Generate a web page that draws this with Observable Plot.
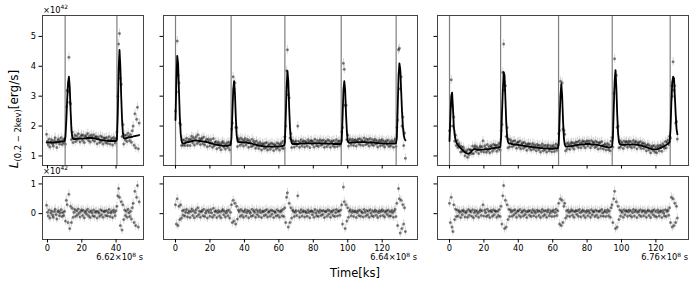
<!DOCTYPE html>
<html><head><meta charset="utf-8">
<script src="https://cdn.jsdelivr.net/npm/d3@7"></script>
<script src="https://cdn.jsdelivr.net/npm/@observablehq/plot@0.6"></script>
<style>
body{margin:0;background:#fff;}
#fig{position:relative;width:693px;height:285px;overflow:hidden;font-family:"DejaVu Sans";background:#fff;}
#fig svg{position:absolute;}
</style></head><body><div id="fig"></div>
<script>
// ---- observation bins (ks) ----
const binKs = 0.5;
const p1Start = -0.5, p2Start = 0, p3Start = 0;

// ---- segment 1 (6.62e8 s) ----
const p1Model = [
1.45,1.45,1.45,1.45,1.45,1.45,1.45,1.45,1.45,1.45,
1.46,1.46,1.46,1.46,1.47,1.47,1.47,1.48,1.48,1.49,
1.49,1.5,1.65,2.2,2.9,3.45,3.65,3.3,2.5,1.85,
1.62,1.57,1.56,1.56,1.57,1.57,1.58,1.58,1.58,1.58,
1.58,1.58,1.58,1.58,1.59,1.59,1.59,1.6,1.6,1.6,
1.6,1.6,1.6,1.6,1.6,1.59,1.59,1.58,1.57,1.56,
1.56,1.55,1.54,1.54,1.53,1.53,1.52,1.52,1.51,1.51,
1.51,1.5,1.5,1.5,1.5,1.5,1.5,1.5,1.5,1.5,
1.5,1.5,1.55,2.4,3.9,4.55,4.0,3.0,2.2,1.75,
1.6,1.58,1.59,1.6,1.6,1.61,1.62,1.62,1.63,1.64,
1.64,1.65,1.66,1.66,1.67,1.68,1.68,1.69,1.7];
const p1Resid = [
0.28,0.05,-0.08,0.12,-0.15,0.02,0.09,-0.05,-0.12,0.07,
0.15,-0.03,-0.18,0.06,0.1,-0.07,0.03,0.13,-0.1,0.04,
-0.06,0.08,-0.25,0.45,0.3,-0.3,0.65,-0.5,0.25,-0.3,
0.18,-0.12,0.05,0.14,-0.09,0.1,-0.04,0.16,0.02,-0.11,
0.08,0.13,-0.06,0.11,-0.14,0.04,0.09,-0.02,0.15,-0.08,
0.06,-0.13,0.1,0.03,-0.07,0.12,-0.1,0.05,0.08,-0.15,
0.07,0.02,-0.09,0.13,-0.04,0.1,-0.12,0.06,0.09,-0.06,
0.11,-0.08,0.04,0.14,-0.1,0.03,0.08,-0.13,0.12,0.05,
-0.07,0.1,0.25,0.6,0.85,0.55,-0.4,0.4,-0.55,0.3,
-0.2,0.12,-0.06,0.09,-0.12,0.15,0.03,-0.1,0.08,-0.18,
0.2,0.35,-0.3,0.75,-0.4,0.55,0.95,-0.45,0.4];
const p1Eruptions = [10.3, 40.5];

// ---- segment 2 (6.64e8 s) ----
const p2Model = [
2.2,3.5,4.35,4.1,3.2,2.3,1.75,1.5,1.43,1.42,
1.42,1.43,1.44,1.45,1.46,1.46,1.47,1.48,1.49,1.5,
1.5,1.51,1.51,1.51,1.51,1.51,1.51,1.5,1.5,1.5,
1.49,1.49,1.48,1.48,1.47,1.47,1.46,1.46,1.45,1.44,
1.43,1.42,1.41,1.41,1.4,1.39,1.38,1.38,1.37,1.37,
1.36,1.36,1.35,1.35,1.35,1.34,1.34,1.34,1.34,1.34,
1.34,1.35,1.35,1.36,1.37,1.6,2.4,3.2,3.5,3.1,
2.3,1.7,1.5,1.46,1.46,1.46,1.46,1.46,1.46,1.45,
1.45,1.45,1.45,1.44,1.44,1.43,1.43,1.42,1.41,1.41,
1.4,1.39,1.38,1.38,1.37,1.36,1.35,1.35,1.34,1.34,
1.33,1.33,1.32,1.32,1.32,1.31,1.31,1.31,1.31,1.31,
1.31,1.31,1.31,1.31,1.31,1.31,1.31,1.31,1.31,1.32,
1.32,1.32,1.32,1.33,1.33,1.34,1.35,1.45,2.3,3.3,
3.85,3.5,2.6,1.9,1.55,1.43,1.4,1.4,1.4,1.4,
1.4,1.4,1.4,1.4,1.41,1.41,1.41,1.41,1.41,1.41,
1.41,1.41,1.42,1.42,1.42,1.42,1.42,1.42,1.42,1.42,
1.42,1.42,1.42,1.42,1.42,1.42,1.42,1.42,1.42,1.42,
1.42,1.42,1.42,1.42,1.41,1.41,1.41,1.41,1.41,1.41,
1.41,1.41,1.41,1.4,1.4,1.4,1.4,1.4,1.4,1.4,
1.4,1.4,1.4,1.5,2.3,3.2,3.5,3.2,2.4,1.8,
1.5,1.45,1.44,1.44,1.44,1.45,1.45,1.45,1.45,1.45,
1.46,1.46,1.46,1.46,1.46,1.46,1.46,1.46,1.46,1.46,
1.46,1.46,1.46,1.45,1.45,1.45,1.45,1.45,1.45,1.45,
1.45,1.44,1.44,1.44,1.43,1.43,1.43,1.42,1.42,1.42,
1.42,1.42,1.41,1.41,1.41,1.41,1.41,1.41,1.41,1.41,
1.41,1.41,1.41,1.41,1.41,1.42,1.42,1.6,2.6,3.7,
4.1,3.9,3.2,2.5,2.0,1.7,1.57,1.52];
const p2Resid = [
0.3,-0.35,0.5,-0.4,0.25,-0.2,0.3,-0.15,0.1,-0.05,
0.12,-0.08,0.05,0.14,-0.11,0.03,0.09,-0.13,0.07,0.16,
-0.06,0.1,-0.14,0.04,0.13,-0.09,0.2,-0.03,0.08,-0.12,
0.06,0.11,-0.07,0.15,-0.1,0.02,0.09,-0.15,0.12,0.05,
-0.09,0.13,0.03,-0.12,0.18,-0.05,0.07,0.1,-0.13,0.04,
0.11,-0.08,0.06,-0.14,0.09,0.14,-0.04,0.08,-0.11,0.03,
0.1,-0.07,0.12,-0.15,0.05,0.3,-0.3,0.45,-0.25,0.35,
-0.35,0.25,-0.18,0.12,0.07,-0.1,0.14,-0.05,0.09,-0.12,
0.06,0.13,-0.08,0.04,0.11,-0.14,0.08,0.02,-0.09,0.15,
-0.06,0.1,0.05,-0.12,0.13,-0.03,0.07,-0.1,0.12,0.04,
-0.13,0.09,0.06,-0.07,0.11,-0.04,0.14,-0.11,0.05,0.08,
-0.09,0.12,-0.02,0.1,-0.13,0.07,0.04,-0.08,0.13,-0.05,
0.09,-0.12,0.06,0.11,-0.07,0.15,-0.1,0.2,-0.3,0.55,
0.7,-0.45,0.35,-0.3,0.2,-0.15,0.12,0.08,-0.1,0.05,
0.11,-0.06,0.6,0.09,-0.12,0.04,0.13,-0.08,0.06,0.1,
-0.11,0.07,0.03,-0.09,0.12,0.05,-0.14,0.08,0.1,-0.04,
0.06,-0.12,0.14,0.02,-0.07,0.1,-0.1,0.05,0.12,-0.06,
0.09,-0.03,0.11,-0.13,0.06,0.08,-0.09,0.13,-0.02,0.1,
-0.12,0.05,0.09,-0.06,0.12,-0.1,0.04,0.14,-0.08,0.07,
0.1,-0.05,0.12,0.3,-0.35,0.9,0.4,-0.5,0.3,-0.25,
0.2,-0.12,0.08,0.13,-0.07,0.05,0.11,-0.1,0.06,0.09,
-0.13,0.04,0.1,-0.06,0.12,-0.09,0.07,0.03,-0.11,0.14,
0.05,-0.08,0.11,-0.04,0.09,-0.12,0.13,0.02,-0.07,0.1,
-0.1,0.06,0.12,-0.05,0.08,-0.13,0.04,0.11,-0.08,0.07,
0.13,-0.06,0.09,-0.11,0.05,0.1,-0.03,0.12,-0.09,0.06,
-0.07,0.11,0.04,-0.12,0.09,0.15,-0.1,0.35,-0.4,0.85,
0.5,-0.65,0.45,-0.5,0.3,-0.35,0.2,-0.6];
const p2Eruptions = [0, 32.3, 63.5, 96.2, 128.1];

// ---- segment 3 (6.76e8 s) ----
const p3Model = [
1.5,2.3,3.0,3.12,2.6,2.0,1.7,1.55,1.45,1.4,
1.36,1.32,1.29,1.26,1.23,1.2,1.17,1.14,1.12,1.1,
1.09,1.08,1.08,1.09,1.11,1.14,1.17,1.2,1.22,1.23,
1.23,1.22,1.21,1.2,1.2,1.2,1.2,1.21,1.21,1.21,
1.21,1.22,1.22,1.22,1.23,1.23,1.23,1.24,1.24,1.25,
1.25,1.26,1.26,1.27,1.27,1.28,1.28,1.29,1.29,1.3,
1.6,2.4,3.2,3.8,3.7,2.9,2.1,1.65,1.47,1.42,
1.41,1.41,1.4,1.4,1.39,1.39,1.38,1.38,1.38,1.37,
1.37,1.36,1.36,1.35,1.35,1.35,1.34,1.34,1.33,1.33,
1.32,1.32,1.31,1.31,1.3,1.3,1.29,1.29,1.29,1.28,
1.28,1.28,1.27,1.27,1.27,1.26,1.26,1.26,1.26,1.25,
1.25,1.25,1.25,1.25,1.25,1.24,1.24,1.24,1.24,1.24,
1.24,1.24,1.24,1.25,1.25,1.25,1.26,1.4,2.2,3.0,
3.4,3.0,2.2,1.6,1.38,1.32,1.31,1.31,1.32,1.32,
1.32,1.33,1.33,1.34,1.34,1.35,1.35,1.36,1.36,1.37,
1.37,1.37,1.38,1.38,1.38,1.39,1.39,1.39,1.4,1.4,
1.4,1.4,1.4,1.4,1.39,1.39,1.39,1.39,1.38,1.38,
1.38,1.37,1.37,1.36,1.36,1.35,1.34,1.34,1.33,1.32,
1.31,1.3,1.3,1.29,1.29,1.28,1.28,1.29,1.3,1.32,
1.6,2.6,3.5,3.87,3.3,2.4,1.75,1.47,1.4,1.38,
1.37,1.37,1.37,1.37,1.38,1.38,1.38,1.38,1.38,1.38,
1.38,1.38,1.38,1.38,1.38,1.38,1.38,1.37,1.37,1.37,
1.36,1.36,1.35,1.35,1.34,1.33,1.32,1.31,1.3,1.29,
1.28,1.27,1.26,1.25,1.24,1.23,1.23,1.22,1.22,1.22,
1.22,1.22,1.23,1.24,1.25,1.26,1.27,1.29,1.3,1.32,
1.33,1.35,1.37,1.39,1.41,1.43,1.46,1.9,2.8,3.45,
3.65,3.6,3.0,2.4,1.9,1.72];
const p3Resid = [
0.35,-0.3,0.55,-0.45,-0.6,0.3,-0.2,0.15,-0.1,0.12,
-0.08,0.1,0.05,-0.13,0.09,-0.04,0.12,0.07,-0.11,0.03,
0.08,-0.12,0.14,-0.05,0.1,0.06,-0.09,0.13,-0.14,0.04,
0.11,-0.07,0.09,0.02,-0.12,0.07,0.13,-0.06,0.1,0.3,
-0.08,0.12,0.04,-0.1,0.15,-0.05,0.08,-0.13,0.11,0.06,
-0.09,0.13,-0.04,0.1,0.07,-0.12,0.09,-0.06,0.14,-0.1,
0.25,-0.35,0.6,0.95,-0.5,0.45,-0.45,0.3,-0.2,0.15,
-0.1,0.12,0.06,-0.09,0.11,-0.04,0.13,0.02,-0.12,0.08,
0.1,-0.06,0.14,-0.11,0.05,0.09,-0.08,0.12,-0.03,0.07,
-0.13,0.06,0.11,-0.05,0.1,-0.1,0.04,0.13,-0.07,0.09,
0.03,-0.11,0.12,0.07,-0.06,0.1,-0.13,0.05,0.14,-0.08,
0.09,-0.04,0.11,-0.12,0.06,0.13,-0.07,0.02,0.1,-0.1,
0.07,0.12,-0.09,0.04,0.15,-0.06,0.1,0.35,-0.35,0.5,
-0.4,0.45,-0.3,0.25,0.35,-0.15,0.1,-0.08,0.12,0.05,
-0.1,0.08,0.13,-0.05,0.09,-0.12,0.06,0.11,-0.03,0.1,
-0.09,0.14,0.04,-0.11,0.07,0.12,-0.06,0.09,-0.13,0.05,
0.11,-0.07,0.1,0.03,-0.12,0.13,-0.04,0.08,0.06,-0.1,
0.12,-0.05,0.09,-0.13,0.07,0.1,-0.08,0.14,0.02,-0.09,
0.06,0.11,-0.1,0.05,0.13,-0.07,0.09,-0.12,0.2,0.3,
-0.3,0.5,0.75,-0.5,0.4,-0.45,0.25,-0.2,0.12,-0.08,
0.1,0.05,-0.12,0.13,-0.04,0.08,0.11,-0.09,0.06,0.12,
-0.06,0.1,-0.11,0.04,0.14,-0.08,0.07,0.12,-0.13,0.05,
0.09,-0.05,0.13,-0.1,0.06,0.11,-0.07,0.1,0.03,-0.12,
0.08,0.12,-0.06,0.09,-0.13,0.05,0.1,-0.04,0.13,-0.09,
0.07,-0.11,0.12,0.04,-0.08,0.1,0.06,-0.13,0.11,0.02,
-0.07,0.13,-0.1,0.08,0.12,-0.05,0.2,-0.3,0.55,-0.45,
0.5,-0.4,0.35,-0.3,0.25,-0.15];
const p3Eruptions = [0, 29.7, 63.4, 94.6, 128.3];

// ---- axes / labels ----
const xTicksShort = [0, 20, 40];
const xTicksLong = [0, 20, 40, 60, 80, 100, 120];
const yTicksLum = [1, 2, 3, 4, 5];
const yTicksRes = [0, 1];
const timeOffsets = ["6.62", "6.64", "6.76"];
const lumScaleExp = "42";
const timeExp = "8";
const yLabelMain = "L", yLabelSub = "(0.2 − 2kev)", yLabelUnit = "[erg/s]";
const xLabel = "Time[ks]";
const lumErr = 0.15, resErr = 0.15;

// ---- layout ----
const fig = document.getElementById("fig");
const cols = [
  {start: p1Start, model: p1Model, resid: p1Resid, eruptions: p1Eruptions, ticks: xTicksShort, domain: [-2.9, 56], left: 42, width: 101, offset: timeOffsets[0]},
  {start: p2Start, model: p2Model, resid: p2Resid, eruptions: p2Eruptions, ticks: xTicksLong, domain: [-6.97, 140.5], left: 163, width: 254, offset: timeOffsets[1]},
  {start: p3Start, model: p3Model, resid: p3Resid, eruptions: p3Eruptions, ticks: xTicksLong, domain: [-6.98, 138.95], left: 437, width: 251, offset: timeOffsets[2]}
];
const rowTop = {top: 15, height: 150, domain: [0.68, 5.7], ticks: yTicksLum};
const rowRes = {top: 176, height: 63, domain: [-0.87, 1.25], ticks: yTicksRes};
const M = {l: 30, r: 10, t: 12, b: 28};
const baseStyle = {background: "transparent", overflow: "visible", fontFamily: "DejaVu Sans", fontSize: "8.3px", color: "#000"};

function place(svg, col, row) {
  svg.style.left = (col.left - M.l) + "px";
  svg.style.top = (row.top - M.t) + "px";
  fig.appendChild(svg);
}

function cloud(data, key, err) {
  return [
    Plot.ruleX(data, {x: "t", y1: d => d[key] - err, y2: d => d[key] + err, stroke: "#000", strokeOpacity: 0.16, clip: true}),
    Plot.ruleY(data, {y: key, x1: d => d.t - binKs / 2, x2: d => d.t + binKs / 2, stroke: "#000", strokeOpacity: 0.35, clip: true}),
    Plot.dot(data, {x: "t", y: key, r: 1.5, fill: "#000", fillOpacity: 0.45, clip: true})
  ];
}

cols.forEach((col, ci) => {
  const data = col.model.map((m, i) => ({t: col.start + i * binKs, model: m, resid: col.resid[i], lum: m + col.resid[i]}));
  const common = {
    width: col.width + M.l + M.r,
    marginLeft: M.l, marginRight: M.r, marginTop: M.t, marginBottom: M.b,
    style: baseStyle
  };
  const top = Plot.plot({
    ...common,
    height: rowTop.height + M.t + M.b,
    x: {domain: col.domain},
    y: {domain: rowTop.domain},
    marks: [
      ...cloud(data, "lum", lumErr),
      Plot.ruleX(col.eruptions, {stroke: "#7f7f7f", strokeWidth: 1.2}),
      Plot.line(data, {x: "t", y: "model", stroke: "#000", strokeWidth: 1.8, clip: true}),
      Plot.frame({stroke: "#444"}),
      Plot.axisX({ticks: col.ticks, tickSize: 3.5, tickFormat: () => "", label: null}),
      Plot.axisY({ticks: rowTop.ticks, tickSize: 3.5, tickPadding: 3, tickFormat: ci === 0 ? d => String(d) : () => "", label: null})
    ]
  });
  place(top, col, rowTop);

  const res = Plot.plot({
    ...common,
    height: rowRes.height + M.t + M.b,
    x: {domain: col.domain},
    y: {domain: rowRes.domain},
    marks: [
      ...cloud(data, "resid", resErr),
      Plot.frame({stroke: "#444"}),
      Plot.axisX({ticks: col.ticks, tickSize: 3.5, tickPadding: 2, tickFormat: d => String(d), label: null}),
      Plot.axisY({ticks: rowRes.ticks, tickSize: 3.5, tickPadding: 3, tickFormat: ci === 0 ? d => String(d) : () => "", label: null})
    ]
  });
  place(res, col, rowRes);
});

// ---- text overlay ----
const ov = d3.select(fig).append("svg")
  .attr("width", 693).attr("height", 285)
  .style("left", "0px").style("top", "0px")
  .style("font-family", "DejaVu Sans").style("font-size", "8.3px");

function sciText(x, y, anchor, lead, exp, tail) {
  const t = ov.append("text").attr("x", x).attr("y", y).attr("text-anchor", anchor).attr("fill", "#000");
  t.append("tspan").text(lead);
  t.append("tspan").attr("dy", -3.4).attr("font-size", "5.9px").text(exp);
  if (tail) t.append("tspan").attr("dy", 3.4).text(tail);
}
sciText(43, 12.5, "start", "×10", lumScaleExp, null);
sciText(43, 173.5, "start", "×10", lumScaleExp, null);
cols.forEach(col => sciText(col.left + col.width, 260, "end", col.offset + "×10", timeExp, " s"));

ov.append("text").attr("x", 355).attr("y", 276.5).attr("text-anchor", "middle")
  .attr("font-size", "11.5px").attr("fill", "#000").text(xLabel);

const yl = ov.append("text").attr("transform", "translate(17.5,119) rotate(-90)")
  .attr("text-anchor", "middle").attr("font-size", "12px").attr("fill", "#000");
yl.append("tspan").attr("font-style", "italic").text(yLabelMain);
yl.append("tspan").attr("font-size", "8.4px").attr("dy", 3).text(yLabelSub);
yl.append("tspan").attr("dy", -3).text(yLabelUnit);
</script></body></html>
